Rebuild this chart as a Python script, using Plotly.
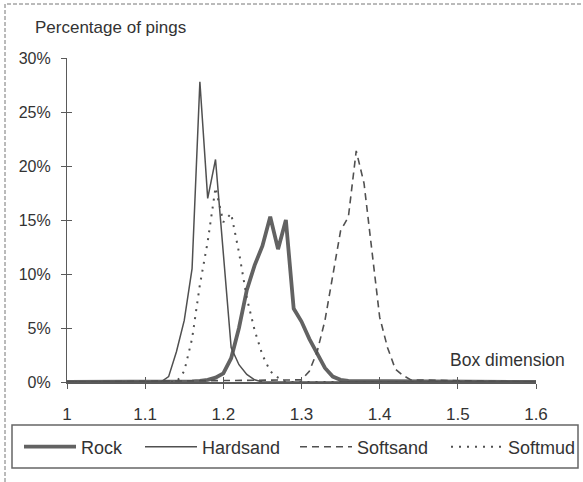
import plotly.graph_objects as go

# ---- data (box dimension vs percentage of pings) ----
rock_x = [1.00, 1.15, 1.16, 1.17, 1.18, 1.19, 1.20, 1.21, 1.22, 1.23, 1.24, 1.25,
          1.26, 1.27, 1.28, 1.29, 1.30, 1.31, 1.32, 1.33, 1.34, 1.35, 1.36, 1.60]
rock_y = [0, 0, 0.05, 0.1, 0.2, 0.4, 0.8, 2.2, 5.0, 8.5, 10.8, 12.6,
          15.3, 12.3, 15.0, 6.8, 5.6, 4.0, 2.6, 1.3, 0.5, 0.2, 0.1, 0]

hard_x = [1.00, 1.12, 1.13, 1.14, 1.15, 1.16, 1.17, 1.18, 1.19, 1.20, 1.21,
          1.22, 1.23, 1.24, 1.25, 1.60]
hard_y = [0, 0, 0.5, 2.8, 5.7, 10.5, 27.8, 17.0, 20.6, 11.8, 3.2,
          1.6, 0.7, 0.2, 0, 0]

softsand_x = [1.00, 1.30, 1.31, 1.32, 1.33, 1.34, 1.35, 1.36, 1.37, 1.38, 1.39,
              1.40, 1.41, 1.42, 1.43, 1.44, 1.60]
softsand_y = [0, 0.2, 1.0, 2.8, 5.7, 10.0, 14.0, 15.3, 21.4, 18.4, 12.0,
              6.0, 3.2, 1.2, 0.6, 0.2, 0]

softmud_x = [1.00, 1.14, 1.15, 1.16, 1.17, 1.18, 1.19, 1.20, 1.21, 1.22, 1.23,
             1.24, 1.25, 1.26, 1.27, 1.28, 1.60]
softmud_y = [0, 0, 1.0, 4.0, 9.0, 13.0, 18.0, 14.8, 15.6, 12.0, 7.8,
             4.8, 2.5, 1.0, 0.4, 0, 0]

x_ticks = [1.0, 1.1, 1.2, 1.3, 1.4, 1.5, 1.6]
x_tick_text = ["1", "1.1", "1.2", "1.3", "1.4", "1.5", "1.6"]
y_ticks = [0, 5, 10, 15, 20, 25, 30]
y_tick_text = ["0%", "5%", "10%", "15%", "20%", "25%", "30%"]

FONT = "Liberation Sans, Arial, sans-serif"
TXT = "#333333"
AX = "#5a5a5a"

W, H = 583, 482
L, R, T, B = 67, 47, 58, 100
pw, ph = W - L - R, H - T - B


def px2x(p):
    return (p - L) / pw


def py2y(p):
    return (H - B - p) / ph


fig = go.Figure()
fig.add_trace(go.Scatter(x=rock_x, y=rock_y, mode="lines", name="Rock", legend="legend",
                         line=dict(color="#626262", width=3.8)))
fig.add_trace(go.Scatter(x=hard_x, y=hard_y, mode="lines", name="Hardsand", legend="legend2",
                         line=dict(color="#505050", width=1.5)))
fig.add_trace(go.Scatter(x=softsand_x, y=softsand_y, mode="lines", name="Softsand", legend="legend3",
                         line=dict(color="#505050", width=1.6, dash="7px,5px")))
fig.add_trace(go.Scatter(x=softmud_x, y=softmud_y, mode="lines", name="Softmud", legend="legend4",
                         line=dict(color="#505050", width=2, dash="2px,6px")))
# invisible copy on the overlay axes so the inner half of the cross ticks is drawn
fig.add_trace(go.Scatter(x=rock_x, y=rock_y, xaxis="x2", yaxis="y2", mode="none",
                         showlegend=False, hoverinfo="skip"))


def leg(px):
    return dict(orientation="h", x=px2x(px), y=py2y(447), xanchor="left", yanchor="middle",
                borderwidth=0, bgcolor="rgba(0,0,0,0)", itemwidth=52,
                font=dict(family=FONT, size=18, color=TXT))


fig.update_layout(
    width=W, height=H,
    margin=dict(l=L, r=R, t=T, b=B, pad=0, autoexpand=False),
    paper_bgcolor="white", plot_bgcolor="white",
    font=dict(family=FONT, size=17, color=TXT),
    showlegend=True,
    legend=leg(19), legend2=leg(140), legend3=leg(295), legend4=leg(446),
    xaxis=dict(range=[1.0, 1.6], tickvals=x_ticks, ticktext=x_tick_text,
               showgrid=False, zeroline=False, showline=True, linecolor=AX, linewidth=1.5,
               ticks="outside", ticklen=5, tickcolor=AX, tickwidth=1.2,
               ticklabelstandoff=11, tickfont=dict(size=17, color=TXT)),
    yaxis=dict(range=[0, 30], tickvals=y_ticks, ticktext=y_tick_text,
               showgrid=False, zeroline=False, showline=True, linecolor=AX, linewidth=1.2,
               ticks="outside", ticklen=5, tickcolor=AX, tickwidth=1.2,
               ticklabelstandoff=7, tickfont=dict(size=16, color=TXT)),
    xaxis2=dict(range=[1.0, 1.6], tickvals=x_ticks, overlaying="x", anchor="y2",
                showticklabels=False, showgrid=False, zeroline=False, showline=False,
                ticks="inside", ticklen=5, tickcolor=AX, tickwidth=1.2),
    yaxis2=dict(range=[0, 30], tickvals=y_ticks, overlaying="y", anchor="x2",
                showticklabels=False, showgrid=False, zeroline=False, showline=False,
                ticks="inside", ticklen=5, tickcolor=AX, tickwidth=1.2),
    annotations=[
        dict(text="Percentage of pings", xref="paper", yref="paper",
             x=px2x(33), y=py2y(27), xanchor="left", yanchor="middle",
             showarrow=False, font=dict(size=17, color=TXT)),
        dict(text="Box dimension", xref="paper", yref="paper",
             x=px2x(567), y=py2y(360), xanchor="right", yanchor="middle",
             showarrow=False, font=dict(size=17.5, color=TXT)),
    ],
    shapes=[
        # outer chart frame
        dict(type="rect", xref="paper", yref="paper",
             x0=px2x(5), x1=px2x(600), y0=py2y(500), y1=py2y(4),
             line=dict(color="#777777", width=1, dash="4px,2px"), layer="below"),
        # legend frame
        dict(type="rect", xref="paper", yref="paper",
             x0=px2x(12), x1=px2x(578), y0=py2y(468), y1=py2y(425),
             line=dict(color="#666666", width=1.5), layer="below"),
    ],
)

fig.write_html("out.html")
